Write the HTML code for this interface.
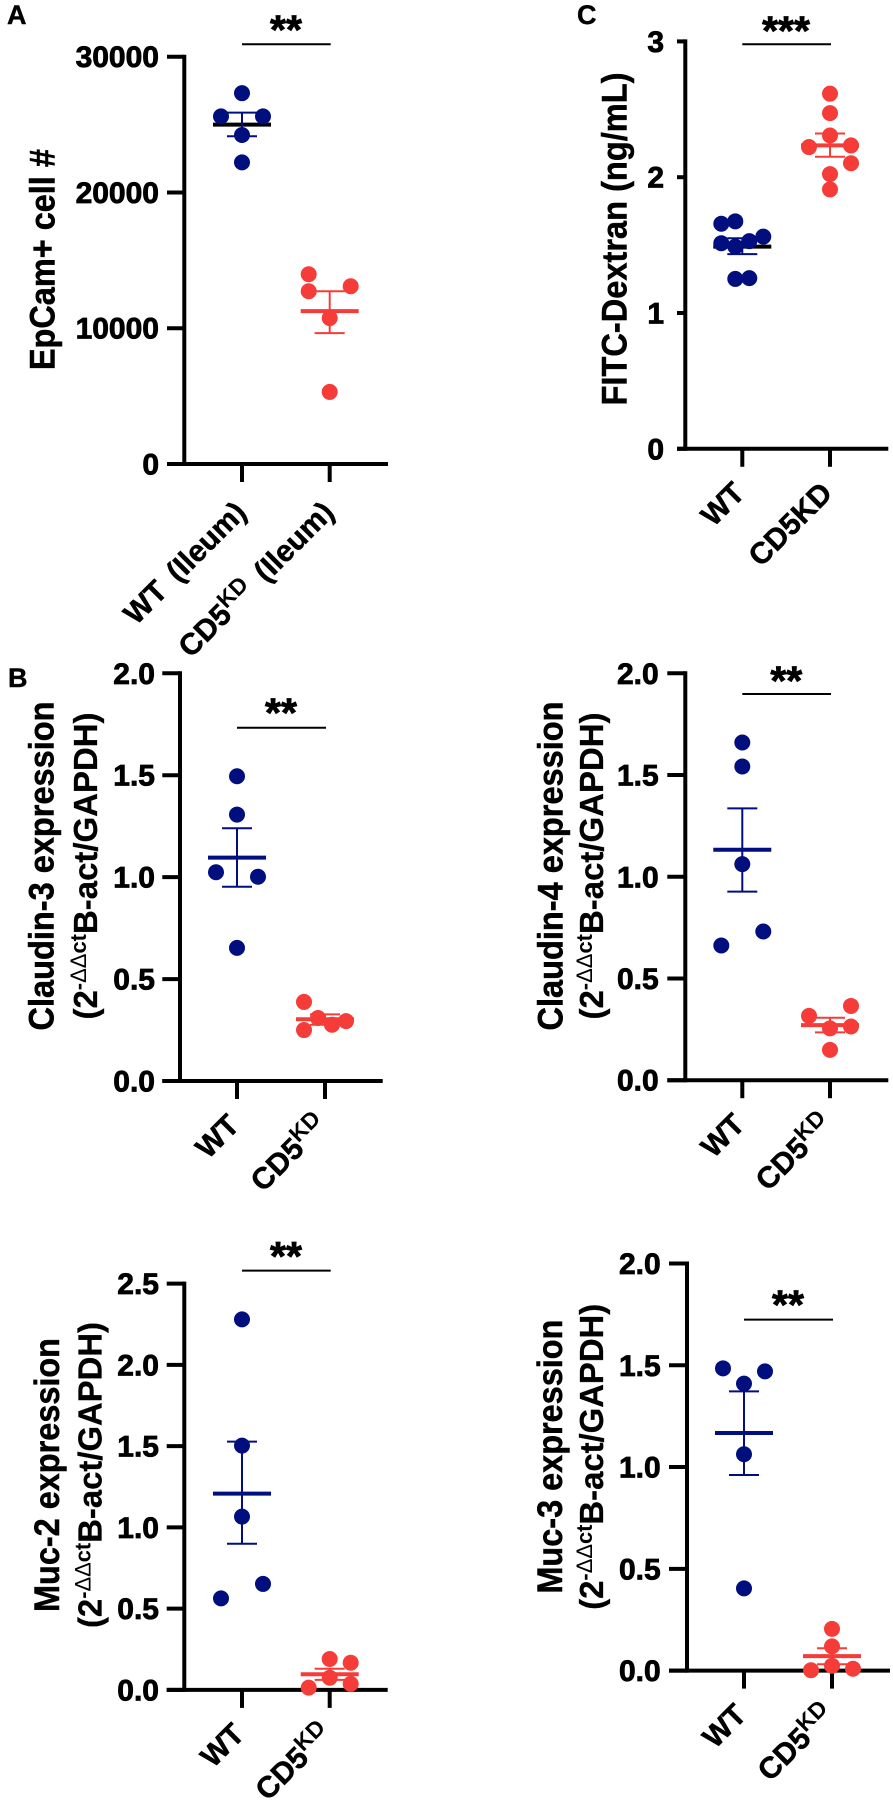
<!DOCTYPE html>
<html lang="en">
<head>
<meta charset="utf-8">
<title>EpCam, FITC-Dextran, Claudin and Muc expression dot plots</title>
<style>
  html, body { margin: 0; padding: 0; background: #fff; }
  svg { display: block; }
  text { font-family: "Liberation Sans", Arial, sans-serif; font-weight: 700; fill: #000; }
  .tick-label { font-size: 30px; stroke: #000; stroke-width: 0.8px; }
  .cat-label { font-size: 30px; stroke: #000; stroke-width: 0.5px; word-spacing: 5px; }
  .stars { font-size: 41px; stroke: #000; stroke-width: 0.8px; }
  .title1 { font-size: 35px; stroke: #000; stroke-width: 0.5px; }
  .title2 { font-size: 33px; stroke: #000; stroke-width: 0.3px; }
  .sup { font-size: 22px; stroke-width: 0; }
  .thin { font-weight: 400; }
  .letter { font-size: 27px; stroke: #000; stroke-width: 0.4px; }
</style>
</head>
<body>
<svg id="figure" xmlns="http://www.w3.org/2000/svg" width="893" height="1803" viewBox="0 0 893 1803">
  <rect x="0" y="0" width="893" height="1803" fill="#fff"/>

  <text class="letter" x="7" y="24">A</text>
  <text class="letter" x="8" y="687">B</text>
  <text class="letter" x="577" y="24">C</text>

  <text class="title1" transform="translate(54.3,259.6) rotate(-90)" text-anchor="middle" textLength="221" lengthAdjust="spacingAndGlyphs">EpCam+ cell #</text>
  <text class="title1" transform="translate(626.7,239) rotate(-90)" text-anchor="middle" textLength="333" lengthAdjust="spacingAndGlyphs">FITC-Dextran (ng/mL)</text>

  <text class="title1" transform="translate(53.3,866) rotate(-90)" text-anchor="middle" textLength="329" lengthAdjust="spacingAndGlyphs">Claudin-3 expression</text>
  <text class="title2" transform="translate(97,866) rotate(-90)" text-anchor="middle" textLength="307" lengthAdjust="spacingAndGlyphs">(2<tspan class="sup" dy="-11">-</tspan><tspan class="sup thin">ΔΔ</tspan><tspan class="sup">ct</tspan><tspan dy="11">B-act/GAPDH)</tspan></text>

  <text class="title1" transform="translate(562.3,866) rotate(-90)" text-anchor="middle" textLength="329" lengthAdjust="spacingAndGlyphs">Claudin-4 expression</text>
  <text class="title2" transform="translate(603,866) rotate(-90)" text-anchor="middle" textLength="307" lengthAdjust="spacingAndGlyphs">(2<tspan class="sup" dy="-11">-</tspan><tspan class="sup thin">ΔΔ</tspan><tspan class="sup">ct</tspan><tspan dy="11">B-act/GAPDH)</tspan></text>

  <text class="title1" transform="translate(59,1475) rotate(-90)" text-anchor="middle" textLength="274" lengthAdjust="spacingAndGlyphs">Muc-2 expression</text>
  <text class="title2" transform="translate(101.7,1475) rotate(-90)" text-anchor="middle" textLength="306" lengthAdjust="spacingAndGlyphs">(2<tspan class="sup" dy="-11">-</tspan><tspan class="sup thin">ΔΔ</tspan><tspan class="sup">ct</tspan><tspan dy="11">B-act/GAPDH)</tspan></text>

  <text class="title1" transform="translate(562,1456.6) rotate(-90)" text-anchor="middle" textLength="274" lengthAdjust="spacingAndGlyphs">Muc-3 expression</text>
  <text class="title2" transform="translate(603,1456.8) rotate(-90)" text-anchor="middle" textLength="306" lengthAdjust="spacingAndGlyphs">(2<tspan class="sup" dy="-11">-</tspan><tspan class="sup thin">ΔΔ</tspan><tspan class="sup">ct</tspan><tspan dy="11">B-act/GAPDH)</tspan></text>
</svg>

<script>
// ---------- Chart data ----------
const categoriesIleum = ["WT (Ileum)", "CD5^KD^ (Ileum)"];
const categoriesPlain = ["WT", "CD5KD"];
const categoriesSup = ["WT", "CD5^KD^"];

const epcamTicks = [0, 10000, 20000, 30000];
const epcamTickLabels = ["0", "10000", "20000", "30000"];
const epcamWt = [27314, 25605, 25605, 24232, 22218];
const epcamWtColumns = [0, -3, 3, 0, 0];
const epcamWtSummary = [24995, 25880, 24140];
const epcamKd = [13977, 13093, 12726, 10743, 5310];
const epcamKdColumns = [-3, 3, -3, 0, 0];
const epcamKdSummary = [11262, 12726, 9644];

const fitcTicks = [0, 1, 2, 3];
const fitcTickLabels = ["0", "1", "2", "3"];
const fitcWt = [1.657, 1.675, 1.514, 1.489, 1.529, 1.5625, 1.251, 1.257];
const fitcWtColumns = [-3, -1, -3, -1, 1, 3, -1, 1];
const fitcWtSummary = [1.489, 1.55, 1.434];
const fitcKd = [2.615, 2.472, 2.307, 2.222, 2.234, 2.103, 2.023, 1.91];
const fitcKdColumns = [0, 0, 0, -3, 3, 3, 0, 0];
const fitcKdSummary = [2.234, 2.322, 2.151];

const claudinTicks = [0, 0.5, 1, 1.5, 2];
const claudinTickLabels = ["0.0", "0.5", "1.0", "1.5", "2.0"];
const claudin3Wt = [1.495, 1.307, 1.024, 1.002, 0.653];
const claudin3WtColumns = [0, 0, -3, 3, 0];
const claudin3WtSummary = [1.096, 1.24, 0.953];
const claudin3Kd = [0.388, 0.309, 0.276, 0.294, 0.25];
const claudin3KdColumns = [-3, -1, 1, 3, -3];
const claudin3KdSummary = [0.303, 0.327, 0.276];

const claudin4Wt = [1.66, 1.542, 1.062, 0.731, 0.662];
const claudin4WtColumns = [0, 0, 0, 3, -3];
const claudin4WtSummary = [1.133, 1.336, 0.927];
const claudin4Kd = [0.365, 0.316, 0.255, 0.264, 0.149];
const claudin4KdColumns = [3, -3, 0, 3, 0];
const claudin4KdSummary = [0.271, 0.307, 0.235];

const muc2Ticks = [0, 0.5, 1, 1.5, 2, 2.5];
const muc2TickLabels = ["0.0", "0.5", "1.0", "1.5", "2.0", "2.5"];
const muc2Wt = [2.28, 1.503, 1.066, 0.652, 0.563];
const muc2WtColumns = [0, 0, 0, 3, -3];
const muc2WtSummary = [1.208, 1.528, 0.899];
const muc2Kd = [0.19, 0.167, 0.075, 0.037, 0.014];
const muc2KdColumns = [0, 3, 0, 3, -3];
const muc2KdSummary = [0.096, 0.13, 0.062];

const muc3Ticks = [0, 0.5, 1, 1.5, 2];
const muc3TickLabels = ["0.0", "0.5", "1.0", "1.5", "2.0"];
const muc3Wt = [1.485, 1.47, 1.41, 1.063, 0.404];
const muc3WtColumns = [-3, 3, 0, 0, 0];
const muc3WtSummary = [1.167, 1.372, 0.961];
const muc3Kd = [0.205, 0.119, 0.024, 0.002, 0.009];
const muc3KdColumns = [0, 0, 0, -3, 3];
const muc3KdSummary = [0.071, 0.11, 0.031];

// ---------- Drawing ----------
const NS = "http://www.w3.org/2000/svg";
const figure = document.getElementById("figure");
const NAVY = "#000e7e";
const RED = "#f63c38";

function make(tag, parent, attrs) {
  const node = document.createElementNS(NS, tag);
  for (const key in attrs) node.setAttribute(key, attrs[key]);
  parent.appendChild(node);
  return node;
}

function drawCategoryLabel(parent, text, x, y) {
  const label = make("text", parent, {
    class: "cat-label",
    transform: "translate(" + x + "," + y + ") rotate(-45)",
    "text-anchor": "end"
  });
  
  
  const parts = text.split("^");
  parts.forEach(function (part, i) {
    const span = make("tspan", label, {});
    span.textContent = part;
    if (i === 1) {
      span.setAttribute("font-size", "23");
      span.setAttribute("dy", "-10");
      span.setAttribute("stroke-width", "0");
    }
    if (i === 2) span.setAttribute("dy", "10");
  });
}

function drawSeries(parent, xCenter, yScale, values, columns, summary, color, meanColor) {
  const group = make("g", parent, {});
  
  

  const meanLine = make("line", group, {
    x1: xCenter - 29, x2: xCenter + 29,
    y1: yScale(summary[0]), y2: yScale(summary[0]),
    stroke: meanColor, "stroke-width": 4
  });
  
  

  values.forEach(function (value, i) {
    const dot = make("circle", group, {
      cx: xCenter + columns[i] * 7,
      cy: yScale(value),
      r: 8,
      fill: color
    });
    
    
  });

  const stem = make("line", group, {
    x1: xCenter, x2: xCenter,
    y1: yScale(summary[1]), y2: yScale(summary[2]),
    stroke: color, "stroke-width": 2
  });
  
  

  const capTop = make("line", group, {
    x1: xCenter - 15, x2: xCenter + 15,
    y1: yScale(summary[1]), y2: yScale(summary[1]),
    stroke: color, "stroke-width": 2
  });
  
  

  const capBottom = make("line", group, {
    x1: xCenter - 15, x2: xCenter + 15,
    y1: yScale(summary[2]), y2: yScale(summary[2]),
    stroke: color, "stroke-width": 2
  });
  
  
}

function drawPanel(p) {
  const g = make("g", figure, {});
  
  

  const yMax = p.ticks[p.ticks.length - 1];
  const yScale = function (v) { return p.y0 - (v / yMax) * (p.y0 - p.yTop); };

  // y axis line
  const yAxis = make("line", g, {
    x1: p.axisX, x2: p.axisX, y1: p.yTop - 2, y2: p.y0 + 2,
    stroke: "#000", "stroke-width": 4
  });
  
  

  // x axis line
  const xAxis = make("line", g, {
    x1: p.tickLeft, x2: p.xEnd, y1: p.y0, y2: p.y0,
    stroke: "#000", "stroke-width": 4
  });
  
  

  // y ticks and labels
  p.ticks.forEach(function (value, i) {
    const y = yScale(value);
    const tick = make("line", g, {
      x1: p.tickLeft, x2: p.axisX, y1: y, y2: y,
      stroke: "#000", "stroke-width": 4
    });
    
    

    const label = make("text", g, {
      class: "tick-label", x: p.labelEnd, y: y + 10.5, "text-anchor": "end"
    });
    
    
    label.textContent = p.tickLabels[i];
  });

  // x ticks and category labels
  p.categories.forEach(function (category, i) {
    const x = i === 0 ? p.x1 : p.x2;
    const tick = make("line", g, {
      x1: x, x2: x, y1: p.y0, y2: p.y0 + 18,
      stroke: "#000", "stroke-width": 4
    });
    
    
    drawCategoryLabel(g, category, x + p.catDx, p.y0 + p.catDy);
  });

  drawSeries(g, p.x1, yScale, p.wt, p.wtColumns, p.wtSummary, NAVY, p.wtMeanColor || NAVY);
  drawSeries(g, p.x2, yScale, p.kd, p.kdColumns, p.kdSummary, RED, RED);

  // significance bracket
  const bar = make("line", g, {
    x1: p.x1, x2: p.x2 + 1, y1: p.sigY, y2: p.sigY,
    stroke: "#000", "stroke-width": 2
  });
  
  

  const stars = make("text", g, {
    class: "stars", x: p.starX, y: p.starY + 20.5, "text-anchor": "middle"
  });
  
  
  stars.textContent = p.stars;
}

drawPanel({
  name: "panel-a-epcam", ticks: epcamTicks, tickLabels: epcamTickLabels, categories: categoriesIleum,
  wt: epcamWt, wtColumns: epcamWtColumns, wtSummary: epcamWtSummary, wtMeanColor: "#000",
  kd: epcamKd, kdColumns: epcamKdColumns, kdSummary: epcamKdSummary,
  axisX: 184.3, y0: 464, yTop: 56.7, x1: 242, x2: 329.7, tickLeft: 167, xEnd: 388, labelEnd: 159,
  sigY: 44.3, starX: 286, starY: 23, stars: "**", catDx: 6, catDy: 50
});
drawPanel({
  name: "panel-c-fitc-dextran", ticks: fitcTicks, tickLabels: fitcTickLabels, categories: categoriesPlain,
  wt: fitcWt, wtColumns: fitcWtColumns, wtSummary: fitcWtSummary, wtMeanColor: "#000",
  kd: fitcKd, kdColumns: fitcKdColumns, kdSummary: fitcKdSummary,
  axisX: 685.3, y0: 448.8, yTop: 41.4, x1: 742.3, x2: 830, tickLeft: 677, xEnd: 888.3, labelEnd: 664,
  sigY: 44.3, starX: 786, starY: 24, stars: "***", catDx: 4, catDy: 46
});
drawPanel({
  name: "panel-b-claudin-3", ticks: claudinTicks, tickLabels: claudinTickLabels, categories: categoriesSup,
  wt: claudin3Wt, wtColumns: claudin3WtColumns, wtSummary: claudin3WtSummary,
  kd: claudin3Kd, kdColumns: claudin3KdColumns, kdSummary: claudin3KdSummary,
  axisX: 180, y0: 1081, yTop: 673.3, x1: 237, x2: 325, tickLeft: 162.3, xEnd: 382.7, labelEnd: 155,
  sigY: 727.7, starX: 281, starY: 705.9, stars: "**", catDx: 4, catDy: 46
});
drawPanel({
  name: "panel-b-claudin-4", ticks: claudinTicks, tickLabels: claudinTickLabels, categories: categoriesSup,
  wt: claudin4Wt, wtColumns: claudin4WtColumns, wtSummary: claudin4WtSummary,
  kd: claudin4Kd, kdColumns: claudin4KdColumns, kdSummary: claudin4KdSummary,
  axisX: 685.3, y0: 1080.2, yTop: 673.3, x1: 742.3, x2: 830, tickLeft: 667.3, xEnd: 888.3, labelEnd: 658.7,
  sigY: 694, starX: 786.3, starY: 674, stars: "**", catDx: 4, catDy: 46
});
drawPanel({
  name: "panel-b-muc-2", ticks: muc2Ticks, tickLabels: muc2TickLabels, categories: categoriesSup,
  wt: muc2Wt, wtColumns: muc2WtColumns, wtSummary: muc2WtSummary,
  kd: muc2Kd, kdColumns: muc2KdColumns, kdSummary: muc2KdSummary,
  axisX: 184.3, y0: 1689.9, yTop: 1283.6, x1: 242, x2: 329.7, tickLeft: 166.7, xEnd: 387.7, labelEnd: 159,
  sigY: 1270.6, starX: 286, starY: 1249.7, stars: "**", catDx: 4, catDy: 46
});
drawPanel({
  name: "panel-b-muc-3", ticks: muc3Ticks, tickLabels: muc3TickLabels, categories: categoriesSup,
  wt: muc3Wt, wtColumns: muc3WtColumns, wtSummary: muc3WtSummary,
  kd: muc3Kd, kdColumns: muc3KdColumns, kdSummary: muc3KdSummary,
  axisX: 687, y0: 1670.6, yTop: 1263.5, x1: 744, x2: 832, tickLeft: 669, xEnd: 890, labelEnd: 660.7,
  sigY: 1319.6, starX: 788, starY: 1298, stars: "**", catDx: 4, catDy: 46
});
</script>
</body>
</html>
